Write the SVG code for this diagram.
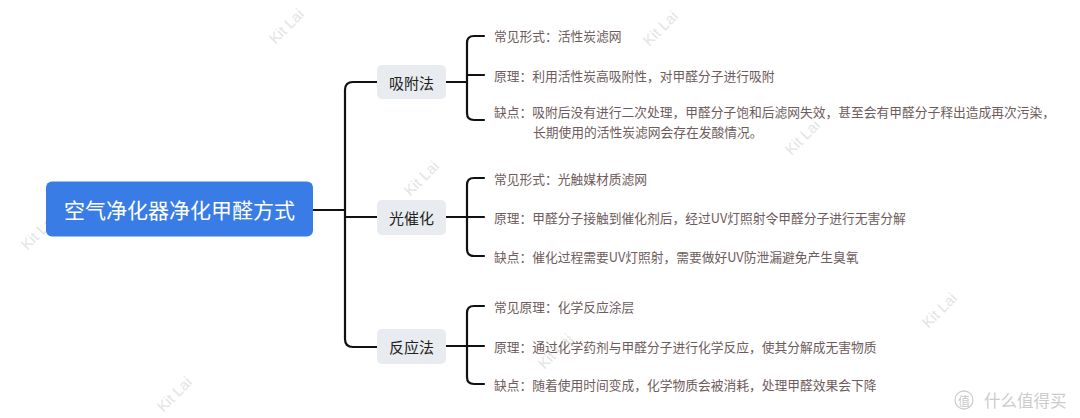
<svg xmlns="http://www.w3.org/2000/svg" width="1080" height="418" viewBox="0 0 1080 418">
<style>
.wm{font-family:"Liberation Sans",Arial,sans-serif;font-size:15px;fill:#e4e4e4}
.leaf{font-family:"Noto Sans CJK SC","Noto Sans",sans-serif;font-size:12.75px;fill:#6e5c5c;dominant-baseline:central}
.ntxt{font-family:"Noto Sans CJK SC","Noto Sans",sans-serif;font-size:15px;fill:#222;text-anchor:middle;dominant-baseline:central}
.nbox{fill:#e8ebef}
.ln{fill:none;stroke:#111;stroke-width:2.2;stroke-linecap:round;stroke-linejoin:round}
</style>
<rect width="1080" height="418" fill="#ffffff"/>
<g id="watermarks">
<text class="wm" transform="translate(290,30) rotate(-45)" text-anchor="middle">Kit Lai</text>
<text class="wm" transform="translate(664,32) rotate(-45)" text-anchor="middle">Kit Lai</text>
<text class="wm" transform="translate(42,236) rotate(-45)" text-anchor="middle">Kit Lai</text>
<text class="wm" transform="translate(425,182) rotate(-45)" text-anchor="middle">Kit Lai</text>
<text class="wm" transform="translate(806,141) rotate(-45)" text-anchor="middle">Kit Lai</text>
<text class="wm" transform="translate(559,355) rotate(-45)" text-anchor="middle">Kit Lai</text>
<text class="wm" transform="translate(943,314) rotate(-45)" text-anchor="middle">Kit Lai</text>
<text class="wm" transform="translate(178,398) rotate(-45)" text-anchor="middle">Kit Lai</text>
</g>
<g id="connectors">
<path class="ln" d="M313,210 H345"/>
<path class="ln" d="M377,82 H353 Q345,82 345,90 V339 Q345,347 353,347 H377"/>
<path class="ln" d="M345,217 H377"/>
<path class="ln" d="M446,82 H467"/>
<path class="ln" d="M484,36 H474 Q467,36 467,43 V113 Q467,120 474,120 H484"/>
<path class="ln" d="M467,75 H484"/>
<path class="ln" d="M446,217 H484"/>
<path class="ln" d="M484,178 H474 Q467,178 467,185 V249 Q467,256 474,256 H484"/>
<path class="ln" d="M446,346 H484"/>
<path class="ln" d="M484,306 H474 Q467,306 467,313 V377 Q467,384 474,384 H484"/>
</g>
<g id="root">
<rect x="46" y="181.5" width="267" height="55" rx="6" fill="#3a7ce5"/>
<text x="179.5" y="209" font-family="Noto Sans CJK SC,Noto Sans,sans-serif" font-size="21" fill="#ffffff" text-anchor="middle" dominant-baseline="central">空气净化器净化甲醛方式</text>
</g>
<g id="n1">
<rect class="nbox" x="377" y="65" width="69" height="34" rx="5"/>
<text class="ntxt" x="411.5" y="82">吸附法</text>
</g>
<g id="n2">
<rect class="nbox" x="377" y="200" width="69" height="35" rx="5"/>
<text class="ntxt" x="411.5" y="217">光催化</text>
</g>
<g id="n3">
<rect class="nbox" x="377" y="329" width="69" height="35" rx="5"/>
<text class="ntxt" x="411.5" y="346">反应法</text>
</g>
<g id="n1a"><text class="leaf" x="494" y="35">常见形式：活性炭滤网</text></g>
<g id="n1b"><text class="leaf" x="494" y="75">原理：利用活性炭高吸附性，对甲醛分子进行吸附</text></g>
<g id="n1c"><text class="leaf" x="494" y="111">缺点：吸附后没有进行二次处理，甲醛分子饱和后滤网失效，甚至会有甲醛分子释出造成再次污染，</text><text class="leaf" x="533" y="131">长期使用的活性炭滤网会存在发酸情况。</text></g>
<g id="n2a"><text class="leaf" x="494" y="178">常见形式：光触媒材质滤网</text></g>
<g id="n2b"><text class="leaf" x="494" y="217">原理：甲醛分子接触到催化剂后，经过UV灯照射令甲醛分子进行无害分解</text></g>
<g id="n2c"><text class="leaf" x="494" y="256">缺点：催化过程需要UV灯照射，需要做好UV防泄漏避免产生臭氧</text></g>
<g id="n3a"><text class="leaf" x="494" y="306">常见原理：化学反应涂层</text></g>
<g id="n3b"><text class="leaf" x="494" y="346">原理：通过化学药剂与甲醛分子进行化学反应，使其分解成无害物质</text></g>
<g id="n3c"><text class="leaf" x="494" y="384">缺点：随着使用时间变成，化学物质会被消耗，处理甲醛效果会下降</text></g>
<g id="logo">
<circle cx="964" cy="400" r="9" fill="none" stroke="#cfcfcf" stroke-width="1.3"/>
<text x="964" y="400" font-family="Noto Sans CJK SC,sans-serif" font-size="12" fill="#c8c8c8" text-anchor="middle" dominant-baseline="central">值</text>
<text x="984" y="400" font-family="Noto Sans CJK SC,sans-serif" font-size="16.5" fill="#cccccc" dominant-baseline="central">什么值得买</text>
</g>
</svg>
